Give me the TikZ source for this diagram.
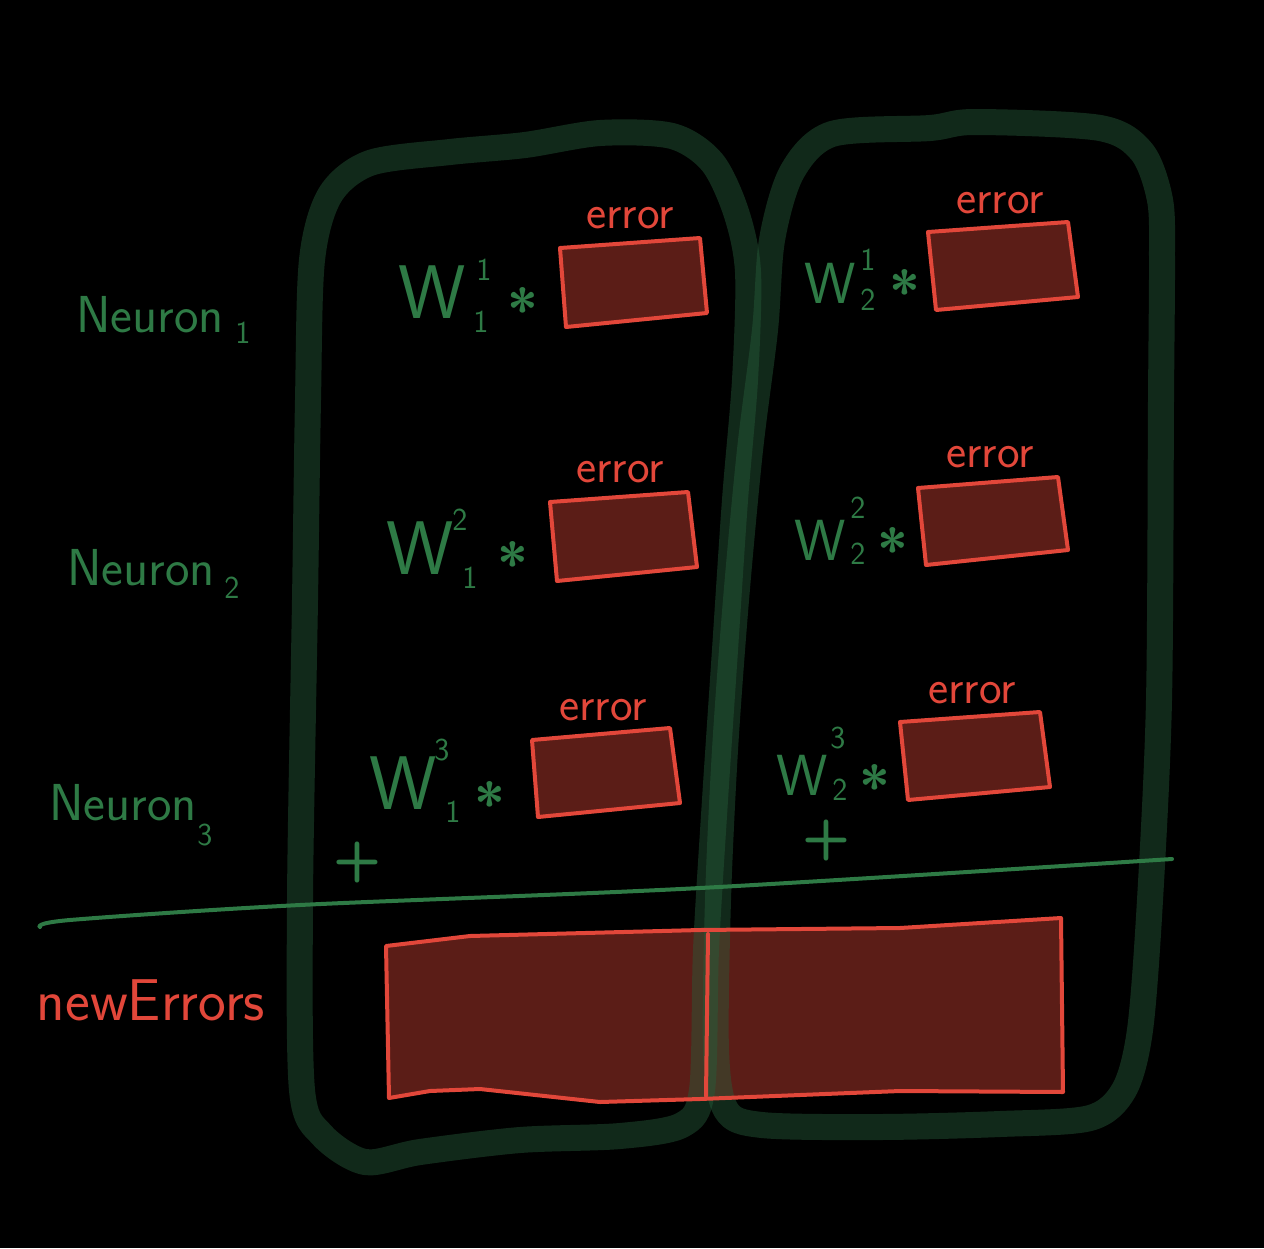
\documentclass[tikz,border=0pt]{standalone}
\usepackage{tikz}
\pgfdeclarelayer{bg}
\pgfsetlayers{bg,main}
\definecolor{inkgreen}{HTML}{2E7A45}
\definecolor{inkred}{HTML}{E2473A}
\definecolor{boxfill}{HTML}{5B1D17}
\definecolor{colgreen}{HTML}{265D3A}
\tikzset{
        lbl/.style={text=inkgreen, font=\sffamily\fontsize{52}{52}\selectfont},
        wterm/.style={text=inkgreen, inner sep=0pt, font=\sffamily\fontsize{76}{76}\selectfont},
        wsmall/.style={text=inkgreen, inner sep=0pt, font=\sffamily\fontsize{58}{58}\selectfont},
        idx/.style={text=inkgreen, inner sep=0pt, font=\sffamily\fontsize{32}{32}\selectfont},
        op/.style={text=inkgreen, inner sep=0pt, font=\sffamily\bfseries\fontsize{56}{56}\selectfont},
        errlbl/.style={text=inkred, inner sep=0pt, font=\sffamily\fontsize{48}{48}\selectfont},
        errbox/.style={draw=inkred, fill=boxfill, line width=4pt, line join=round},
        column/.style={draw=colgreen, draw opacity=0.45, line width=26pt, line join=round},
}

\begin{document}
\begin{tikzpicture}[x=1pt, y=-1pt]
        \useasboundingbox (0,0) rectangle (1264,1248);
        % row labels
        \node (n1) [lbl] at (150,315) {Neuron};
        \node (n1i) [idx] at (243,333) {1};
        \node (n2) [lbl] at (141,568) {Neuron};
        \node (n2i) [idx] at (232,588) {2};
        \node (n3) [lbl] at (123,803) {Neuron};
        \node (n3i) [idx] at (205,835) {3};
        \node (ne) [inner sep=0pt, text=inkred, font=\sffamily\fontsize{59}{59}\selectfont] at (151,1000) {newErrors};
        % weights
        \node (w11) [wterm] at (432,292) {W};
        \node (w11s) [idx] at (484,270) {1};
        \node (w11i) [idx] at (481,322) {1};
        \node (m11) [op] at (523,308) {*};
        \node (w21) [wsmall] at (830,283) {W};
        \node (w21s) [idx] at (868,260) {1};
        \node (w21i) [idx] at (868,300) {2};
        \node (m21) [op] at (905,290) {*};
        \node (w12) [wterm] at (420,548) {W};
        \node (w12s) [idx] at (460,520) {2};
        \node (w12i) [idx] at (470,578) {1};
        \node (m12) [op] at (513,562) {*};
        \node (w22) [wsmall] at (820,540) {W};
        \node (w22s) [idx] at (858,508) {2};
        \node (w22i) [idx] at (858,554) {2};
        \node (m22) [op] at (893,548) {*};
        \node (w13) [wterm] at (403,783) {W};
        \node (w13s) [idx] at (442,750) {3};
        \node (w13i) [idx] at (453,812) {1};
        \node (m13) [op] at (490,802) {*};
        \node (w23) [wsmall] at (802,775) {W};
        \node (w23s) [idx] at (838,738) {3};
        \node (w23i) [idx] at (840,790) {2};
        \node (m23) [op] at (875,785) {*};
        \node (p1) [op] at (357,862) {+};
        \node (p2) [op] at (826,840) {+};
        % error labels
        \node (e11) [errlbl] at (630,218) {error};
        \node (e21) [errlbl] at (1000,203) {error};
        \node (e12) [errlbl] at (620,472) {error};
        \node (e22) [errlbl] at (990,457) {error};
        \node (e13) [errlbl] at (603,710) {error};
        \node (e23) [errlbl] at (972,693) {error};
        \begin{pgfonlayer}{bg}
                \fill[black] (0,0) rectangle (1264,1248);
                \draw[errbox] (560,248) -- (700,238) -- (707,313) -- (566,327) -- cycle;
                \draw[errbox] (928,232) -- (1068,222) -- (1078,297) -- (936,310) -- cycle;
                \draw[errbox] (550,502) -- (688,492) -- (697,567) -- (557,581) -- cycle;
                \draw[errbox] (918,488) -- (1058,477) -- (1068,550) -- (926,565) -- cycle;
                \draw[errbox] (532,740) -- (670,728) -- (680,803) -- (538,817) -- cycle;
                \draw[errbox] (900,722) -- (1040,712) -- (1050,787) -- (908,800) -- cycle;
                % sum row
                \fill[boxfill] (386,946) -- (470,936) -- (700,930) -- (900,928) -- (1061,918) -- (1063,1092) -- (900,1091) -- (700,1099) -- (600,1102) -- (480,1089) -- (430,1091) -- (389,1098) -- cycle;
                \draw[column] plot[smooth cycle, tension=0.5] coordinates {(305,600) (308,400) (312,260) (330,195) (370,163) (450,152) (525,145) (600,133) (672,136) (712,162) (736,212) (748,272) (745,380) (735,500) (725,650) (715,800) (706,950) (702,1090) (682,1125) (620,1136) (520,1140) (420,1152) (365,1162) (322,1135) (302,1090) (300,900)};
                \draw[column] plot[smooth cycle, tension=0.5] coordinates {(1161,400) (1159,700) (1150,900) (1140,1030) (1124,1090) (1090,1118) (1000,1124) (880,1127) (762,1125) (726,1110) (716,1050) (718,900) (725,750) (736,600) (750,450) (765,330) (772,240) (792,172) (832,134) (930,128) (975,122) (1100,128) (1142,152) (1160,200) (1162,260)};
                \draw[draw=inkred, line width=4pt, line join=round] (386,946) -- (470,936) -- (700,930) -- (900,928) -- (1061,918) -- (1063,1092) -- (900,1091) -- (700,1099) -- (600,1102) -- (480,1089) -- (430,1091) -- (389,1098) -- cycle;
                \draw[draw=inkred, line width=4pt, line cap=round] (708,934) -- (706,1096);
                \draw[draw=inkgreen, line width=4pt, line cap=round] plot[smooth, tension=0.5] coordinates {(40,927) (70,920) (300,905) (700,888) (1172,859)};
        \end{pgfonlayer}
\end{tikzpicture}
\end{document}
